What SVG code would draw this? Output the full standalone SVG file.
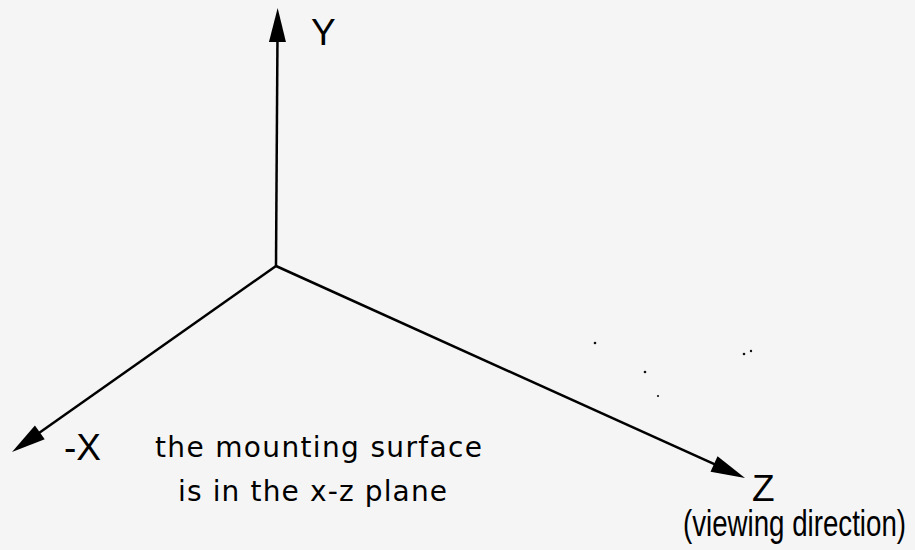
<svg xmlns="http://www.w3.org/2000/svg" width="915" height="550" viewBox="0 0 915 550">
<style>
.axis{stroke:#000;stroke-width:2.5;fill:none;stroke-linecap:butt}
.lbl{font-family:"Liberation Sans",Arial,sans-serif;font-size:37px;fill:#000}
.note{font-family:"DejaVu Sans",Verdana,sans-serif;font-size:28px;fill:#000}
.dot{fill:#111}
</style>
<defs>
<marker id="arr" markerUnits="userSpaceOnUse" markerWidth="50" markerHeight="24" viewBox="-30 -12 50 24" refX="0" refY="0" orient="auto">
<path d="M10,0 L-24,-8.5 L-24,8.5 Z" fill="#000"/>
</marker>
</defs>
<rect width="915" height="550" fill="#f5f5f5"/>
<g id="connectors">
<line id="axis-y" class="axis" x1="276" y1="266" x2="277.6" y2="18" marker-end="url(#arr)"/>
<line id="axis-x" class="axis" x1="276" y1="266" x2="20.2" y2="446.2" marker-end="url(#arr)"/>
<line id="axis-z" class="axis" x1="276" y1="266" x2="735.9" y2="473.9" marker-end="url(#arr)"/>
</g>
<g id="label-y"><text class="lbl" x="311" y="45">Y</text></g>
<g id="label-x"><text class="lbl" x="64" y="460">-X</text></g>
<g id="label-z"><text class="lbl" x="752" y="501">Z</text></g>
<g id="label-view"><text class="lbl" x="683" y="536" font-size="28" textLength="223" lengthAdjust="spacingAndGlyphs">(viewing direction)</text></g>
<g id="note">
<text class="note" x="155" y="457" textLength="327">the mounting surface</text>
<text class="note" x="178" y="501" textLength="269">is in the x-z plane</text>
</g>
<g id="specks">
<circle class="dot" cx="595" cy="343" r="1.3"/>
<circle class="dot" cx="645" cy="372" r="1.3"/>
<circle class="dot" cx="658" cy="396" r="1.1"/>
<circle class="dot" cx="744" cy="354" r="1.3"/>
<circle class="dot" cx="751" cy="351" r="1.2"/>
</g>
</svg>
